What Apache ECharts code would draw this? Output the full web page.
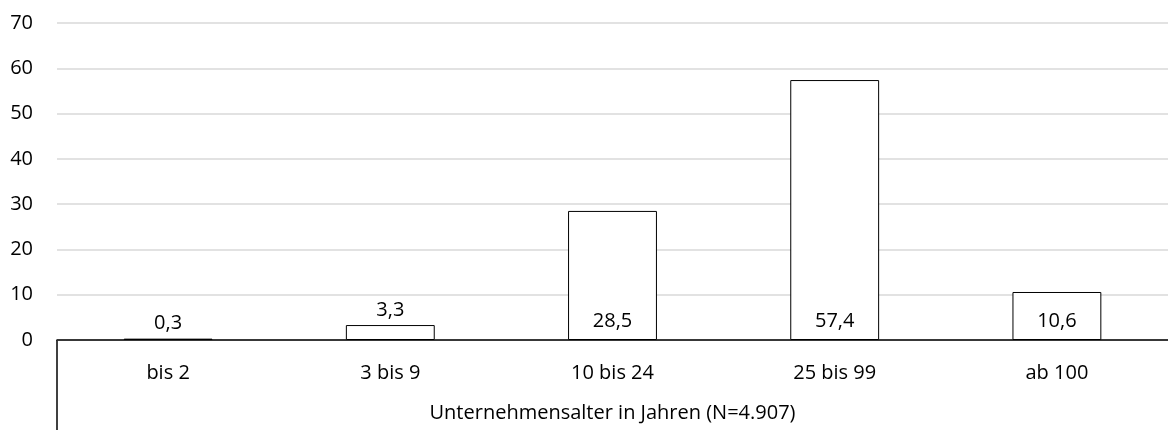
<!DOCTYPE html>
<html>
<head>
<meta charset="utf-8">
<script src="https://cdn.jsdelivr.net/npm/echarts@6/dist/echarts.min.js"></script>
<style>html,body{margin:0;padding:0;background:#fff}#c{width:1168px;height:430px}</style>
</head>
<body>
<div id="c"></div>
<script>
const categories = ['bis 2', '3 bis 9', '10 bis 24', '25 bis 99', 'ab 100'];
const values = [0.3, 3.3, 28.5, 57.4, 10.6];
const yTicks = [0, 10, 20, 30, 40, 50, 60, 70];
const axisTitle = 'Unternehmensalter in Jahren (N=4.907)';

const FONT = '"Open Sans", Lato, sans-serif';
const FS = 20;
const chart = echarts.init(document.getElementById('c'));
chart.setOption({
  animation: false,
  grid: { left: 57, right: 0, top: 23, bottom: 90, containLabel: false, outerBoundsMode: 'none' },
  xAxis: {
    type: 'category',
    data: categories,
    name: axisTitle,
    nameLocation: 'middle',
    nameGap: 63,
    nameTextStyle: { color: '#000', fontSize: FS, fontFamily: FONT },
    axisLine: { lineStyle: { color: '#000', width: 1.5 } },
    axisTick: { show: false },
    axisLabel: { color: '#000', fontSize: FS, fontFamily: FONT, margin: 23 }
  },
  yAxis: {
    type: 'value',
    min: yTicks[0],
    max: yTicks[yTicks.length - 1],
    interval: 10,
    axisLine: { show: false },
    axisTick: { show: false },
    splitLine: { lineStyle: { color: '#d9d9d9', width: 1.5 } },
    axisLabel: { color: '#000', fontSize: FS, fontFamily: FONT, margin: 24 }
  },
  series: [{
    type: 'bar',
    data: values.map(v => ({
      value: v,
      label: { position: v < 5 ? 'top' : 'insideBottom', distance: v < 5 ? 5 : 9 }
    })),
    barCategoryGap: '60%',
    itemStyle: { color: '#fff', borderColor: '#000', borderWidth: 1 },
    label: {
      show: true,
      color: '#000',
      fontSize: FS,
      fontFamily: FONT,
      formatter: p => String(p.value).replace('.', ',')
    }
  }],
  graphic: [{
    type: 'line',
    shape: { x1: 57, y1: 340, x2: 57, y2: 430 },
    style: { stroke: '#000', lineWidth: 1.5 }
  }]
});
</script>
</body>
</html>
